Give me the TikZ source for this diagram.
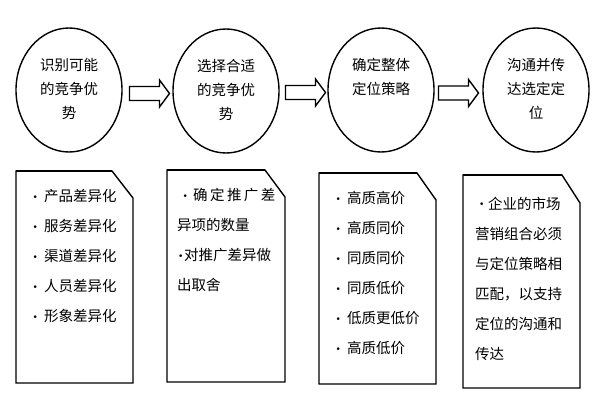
\documentclass[tikz,border=0pt]{standalone}
\usepackage{fontspec}
\setmainfont{Noto Sans CJK SC}
\newfontfamily\bulfont{DejaVu Sans}
\usetikzlibrary{shapes.geometric,calc}
\newcommand\bdot[1]{\makebox[#1pt]{\raisebox{1.8pt}{\bulfont\fontsize{9}{9}\selectfont •}}}
\tikzset{
  stage/.style={ellipse, draw, line width=1.4pt, minimum width=106pt, minimum height=124pt, inner sep=0pt},
  ctext/.style={anchor=north, align=center, inner sep=0pt, font=\fontsize{14.5}{24}\selectfont},
  btext/.style={anchor=north west, align=left, inner sep=0pt, font=\fontsize{14.5}{30}\selectfont},
  doc/.style={draw, line width=1.4pt, line join=miter},
  doctop/.style={draw, line width=2.6pt},
  barrow/.style={draw, line width=1.4pt, fill=white, line join=miter},
  pics/blockarr/.style={code={
    \draw[barrow] (-20,-7) -- (10,-7) -- (10,-13.5) -- (20,0) -- (10,13.5) -- (10,7) -- (-20,7) -- cycle;}}
}
\begin{document}
\begin{tikzpicture}[x=1pt,y=-1pt]
\useasboundingbox (0,0) rectangle (600,400);
% stages
\node[stage] (s1) at (69,90) {};
\node[stage] (s2) at (226,91) {};
\node[stage] (s3) at (381,90) {};
\node[stage] (s4) at (536,90) {};
\node[ctext] (t1) at (69,58.5) {识别可能\\的竞争优\\势};
\node[ctext] (t2) at (226,59) {选择合适\\的竞争优\\势};
\node[ctext] (t3) at (381,58.5) {确定整体\\定位策略};
\node[ctext] (t4) at (536,58.5) {沟通并传\\达选定定\\位};
% block arrows between stages
\pic at ($(s1.east)!.5!(s2.west)+(2,3)$) {blockarr};
\pic at ($(s2.east)!.5!(s3.west)+(2,2)$) {blockarr};
\pic at ($(s3.east)!.5!(s4.west)+(0,3)$) {blockarr};
% document boxes
\draw[doc] (16,171) -- (112,171) -- (133,198) -- (133,383) -- (16,383) -- cycle;
\draw[doctop] (16,171) -- (112,171);
\draw[doc] (167,170) -- (265,170) -- (285,197) -- (285,382) -- (167,382) -- cycle;
\draw[doctop] (167,170) -- (265,170);
\draw[doc] (319,173) -- (417,173) -- (436,200) -- (436,384) -- (319,384) -- cycle;
\draw[doctop] (319,173) -- (417,173);
\draw[doc] (463,175) -- (562,175) -- (580,203) -- (580,388) -- (463,388) -- cycle;
\draw[doctop] (463,175) -- (562,175);
% box texts
\node[btext] (b1) at (26,189.5) {\bdot{18}产品差异化\\\bdot{18}服务差异化\\\bdot{18}渠道差异化\\\bdot{18}人员差异化\\\bdot{18}形象差异化};
\node[btext] (b2) at (177,188.5) {\bdot{16}确\,定\,推\,广\,差\\异项的数量\\\bdot{7}对推广差异做\\出取舍};
\node[btext] (b3) at (329,191.5) {\bdot{18}高质高价\\\bdot{18}高质同价\\\bdot{18}同质同价\\\bdot{18}同质低价\\\bdot{18}低质更低价\\\bdot{18}高质低价};
\node[btext] (b4) at (475,196.5) {\bdot{13}企业的市场\\营销组合必须\\与定位策略相\\匹配，以支持\\定位的沟通和\\传达};
\end{tikzpicture}
\end{document}
